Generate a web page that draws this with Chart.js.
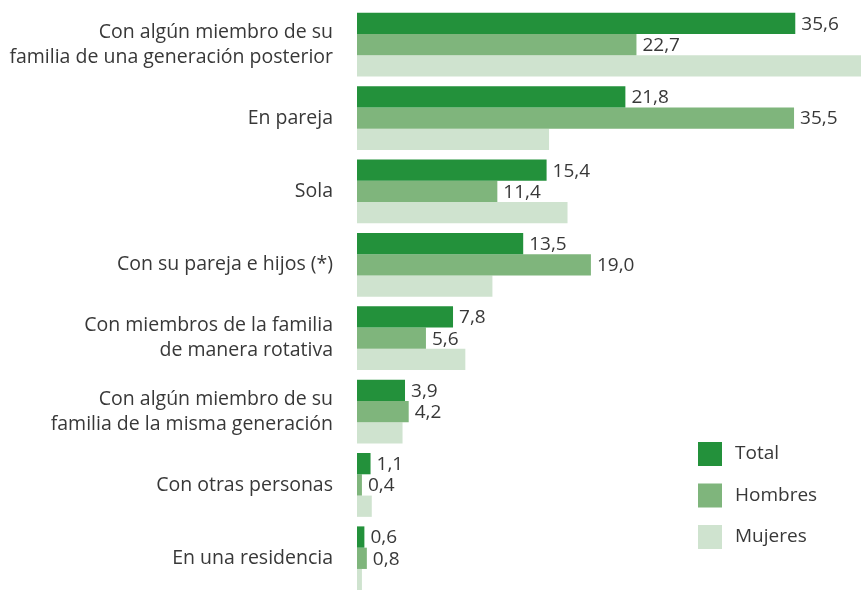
<!DOCTYPE html>
<html>
<head>
<meta charset="utf-8">
<script src="https://cdn.jsdelivr.net/npm/chart.js@4"></script>
<style>
  html, body { margin: 0; padding: 0; background: #fff; overflow: hidden; }
  #wrap { width: 911px; height: 600px; position: relative; }
</style>
</head>
<body>
<div id="wrap"><canvas id="chart"></canvas></div>
<script>
const categorias = [
  ['Con algún miembro de su', 'familia de una generación posterior'],
  'En pareja',
  'Sola',
  'Con su pareja e hijos (*)',
  ['Con miembros de la familia', 'de manera rotativa'],
  ['Con algún miembro de su', 'familia de la misma generación'],
  'Con otras personas',
  'En una residencia'
];
const total = [35.6, 21.8, 15.4, 13.5, 7.8, 3.9, 1.1, 0.6];
const hombres = [22.7, 35.5, 11.4, 19.0, 5.6, 4.2, 0.4, 0.8];
const mujeres = [41.4, 15.6, 17.1, 11.0, 8.8, 3.7, 1.2, 0.4];
const series = ['Total', 'Hombres', 'Mujeres'];
const colores = ['#23913b', '#7fb57c', '#cfe3cf'];

const fuente = "'Open Sans', sans-serif";
const gris = '#383838';

// etiquetas de valor (solo Total y Hombres)
const etiquetas = {
  id: 'etiquetas',
  afterDatasetsDraw(chart) {
    const ctx = chart.ctx;
    ctx.save();
    ctx.font = '19px ' + fuente;
    ctx.fillStyle = gris;
    ctx.textAlign = 'left';
    ctx.textBaseline = 'middle';
    [0, 1].forEach(i => {
      const meta = chart.getDatasetMeta(i);
      meta.data.forEach((bar, j) => {
        const v = chart.data.datasets[i].data[j];
        ctx.fillText(v.toFixed(1).replace('.', ','), bar.x + 6, bar.y + 1);
      });
    });
    ctx.restore();
  }
};

// leyenda abajo a la derecha
const leyenda = {
  id: 'leyenda',
  afterDraw(chart) {
    const ctx = chart.ctx;
    const x0 = chart.chartArea.left + 341;
    const y0 = 442;
    ctx.save();
    ctx.font = '19px ' + fuente;
    ctx.textBaseline = 'middle';
    chart.data.datasets.forEach((ds, i) => {
      const y = y0 + i * 41.5;
      ctx.fillStyle = ds.backgroundColor;
      ctx.fillRect(x0, y, 24, 24);
      ctx.fillStyle = gris;
      ctx.fillText(ds.label, x0 + 37, y + 12);
    });
    ctx.restore();
  }
};

new Chart(document.getElementById('chart'), {
  type: 'bar',
  data: {
    labels: categorias,
    datasets: [
      { label: series[0], data: total, backgroundColor: colores[0] },
      { label: series[1], data: hombres, backgroundColor: colores[1] },
      { label: series[2], data: mujeres, backgroundColor: colores[2] }
    ]
  },
  options: {
    indexAxis: 'y',
    responsive: true,
    maintainAspectRatio: false,
    animation: false,
    layout: { padding: { top: 8, bottom: 5, left: 0, right: 0 } },
    datasets: {
      bar: { categoryPercentage: 0.87, barPercentage: 1.0, borderWidth: 0 }
    },
    scales: {
      x: {
        display: false,
        min: 0,
        max: 45
      },
      y: {
        afterFit(scale) {
          scale.width = 357;
          scale.paddingTop = 0;
          scale.paddingBottom = 0;
        },
        grid: { display: false, drawTicks: false },
        border: { display: false },
        ticks: {
          padding: 24,
          color: gris,
          font: { family: fuente, size: 19.5, lineHeight: 1.28 }
        }
      }
    },
    plugins: {
      legend: { display: false },
      tooltip: { enabled: false }
    }
  },
  plugins: [etiquetas, leyenda]
});
</script>
</body>
</html>
